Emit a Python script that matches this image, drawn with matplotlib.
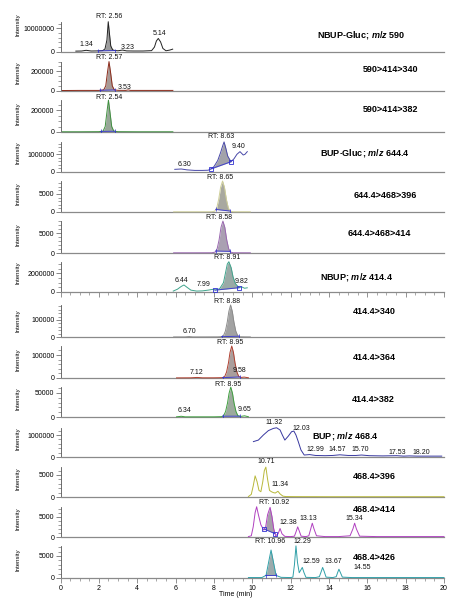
import numpy as np
import matplotlib
matplotlib.use("Agg")
import matplotlib.pyplot as plt
import matplotlib.transforms as mtransforms

plt.rcParams['font.family'] = ['Liberation Sans', 'DejaVu Sans']
plt.rcParams['mathtext.fontset'] = 'custom'
plt.rcParams['mathtext.it'] = 'Liberation Sans:bold:italic'
plt.rcParams['mathtext.rm'] = 'Liberation Sans:bold'
plt.rcParams['mathtext.bf'] = 'Liberation Sans:bold'

# ---------------- data ----------------
titles = ["NBUP-Gluc; $\\mathit{m/z}$ 590", "590>414>340", "590>414>382",
          "BUP-Gluc; $\\mathit{m/z}$ 644.4", "644.4>468>396", "644.4>468>414",
          "NBUP; $\\mathit{m/z}$ 414.4", "414.4>340", "414.4>364", "414.4>382",
          "BUP; $\\mathit{m/z}$ 468.4", "468.4>396", "468.4>414", "468.4>426"]

y_major = [10000000, 200000, 200000, 1000000, 5000, 5000, 2000000,
           100000, 100000, 50000, 1000000, 5000, 5000, 5000]

p1_t = [0.8, 1.1, 1.34, 1.6, 1.96, 2.2, 2.32, 2.42, 2.49, 2.55, 2.62, 2.72, 2.84, 3.0, 3.23, 3.45, 3.8,
        4.3, 4.75, 4.9, 5.0, 5.1, 5.22, 5.34, 5.5, 5.7, 5.85]
p1_i = [0.25e6, 0.3e6, 0.6e6, 0.3e6, 0.35e6, 0.45e6, 1.2e6, 5.0e6, 12.9e6, 8.0e6, 2.5e6, 0.8e6, 0.5e6,
        0.4e6, 0.7e6, 0.35e6, 0.3e6, 0.3e6, 0.45e6, 2.0e6, 4.6e6, 5.7e6, 4.2e6, 1.4e6, 0.4e6, 0.7e6, 1.1e6]

p2_t = [0.1, 1.0, 2.0, 2.25, 2.36, 2.45, 2.53, 2.61, 2.7, 2.81, 3.0, 3.4, 3.53, 3.65, 4.5, 5.86]
p2_i = [2e3, 3e3, 3e3, 8e3, 5e4, 1.9e5, 3.0e5, 1.9e5, 5e4, 8e3, 4e3, 3e3, 8e3, 3e3, 3e3, 3e3]

p3_t = [0.1, 1.0, 2.0, 2.22, 2.33, 2.42, 2.5, 2.58, 2.67, 2.78, 3.0, 4.0, 5.86]
p3_i = [2e3, 2e3, 3e3, 8e3, 5e4, 1.8e5, 2.9e5, 1.8e5, 5e4, 8e3, 3e3, 2e3, 2e3]

p4_t = [5.96, 6.3, 6.6, 7.0, 7.4, 7.7, 7.84, 8.0, 8.2, 8.35, 8.45, 8.53, 8.62, 8.72, 8.89, 9.05, 9.2,
        9.36, 9.45, 9.53, 9.62, 9.74]
p4_i = [0.15e6, 0.17e6, 0.12e6, 0.09e6, 0.09e6, 0.1e6, 0.17e6, 0.3e6, 0.65e6, 1.1e6, 1.45e6, 1.7e6,
        1.35e6, 0.9e6, 0.58e6, 0.75e6, 1.0e6, 1.15e6, 1.05e6, 0.96e6, 1.0e6, 1.15e6]

p5_t = [5.9, 7.0, 7.9, 8.05, 8.15, 8.25, 8.35, 8.45, 8.55, 8.65, 8.75, 8.85, 9.0, 9.9]
p5_i = [50, 50, 60, 260, 1160, 3530, 6880, 8600, 6880, 3530, 1160, 260, 60, 50]

p6_t = [5.9, 7.0, 7.9, 8.07, 8.17, 8.27, 8.37, 8.47, 8.57, 8.67, 8.77, 8.87, 9.0, 9.9]
p6_i = [50, 50, 60, 240, 1100, 3300, 6500, 8100, 6500, 3300, 1100, 240, 60, 50]

p7_t = [5.88, 6.1, 6.3, 6.44, 6.6, 6.8, 7.1, 7.4, 7.7, 7.99, 8.06, 8.3, 8.5, 8.62, 8.7, 8.78, 8.9,
        9.0, 9.12, 9.31, 9.45, 9.6, 9.74]
p7_i = [0.1e6, 0.3e6, 0.6e6, 0.75e6, 0.5e6, 0.2e6, 0.1e6, 0.12e6, 0.2e6, 0.3e6, 0.2e6, 0.35e6, 1.0e6,
        2.2e6, 3.0e6, 3.24e6, 2.6e6, 1.6e6, 0.9e6, 0.46e6, 0.55e6, 0.4e6, 0.45e6]

p8_t = [5.9, 6.5, 6.7, 6.9, 7.5, 8.2, 8.4, 8.5, 8.6, 8.7, 8.78, 8.87, 8.96, 9.04, 9.14, 9.24, 9.35,
        9.6, 9.9]
p8_i = [500, 500, 2500, 500, 500, 800, 2000, 8e3, 3.5e4, 9e4, 1.5e5, 1.88e5, 1.5e5, 9e4, 3.5e4, 8e3,
        1500, 800, 500]

p9_t = [6.05, 6.8, 7.12, 7.4, 8.0, 8.45, 8.56, 8.66, 8.76, 8.84, 8.93, 9.02, 9.1, 9.2, 9.3, 9.42,
        9.58, 9.8]
p9_i = [500, 800, 2500, 800, 800, 1500, 6e3, 2.6e4, 6.6e4, 1.11e5, 1.39e5, 1.11e5, 6.6e4, 2.6e4, 6e3,
        2500, 4000, 1000]

p10_t = [6.05, 6.3, 6.5, 7.0, 8.0, 8.4, 8.51, 8.61, 8.71, 8.79, 8.88, 8.97, 9.05, 9.15, 9.25, 9.4,
         9.6, 9.8]
p10_i = [300, 1500, 300, 300, 300, 700, 2700, 1.15e4, 2.9e4, 4.9e4, 6.2e4, 4.9e4, 2.9e4, 1.15e4,
         2700, 1200, 2500, 500]

p11_t = [10.06, 10.32, 10.58, 10.84, 11.10, 11.27, 11.45, 11.57, 11.70, 11.88, 12.05, 12.17, 12.28,
         12.40, 12.54, 12.71, 12.99, 13.3, 13.8, 14.2, 14.57, 15.0, 15.4, 15.7, 16.1, 16.8, 17.53,
         17.9, 18.2, 18.6, 19.2, 19.88]
p11_i = [0.70e6, 0.77e6, 1.0e6, 1.2e6, 1.30e6, 1.33e6, 1.23e6, 1.0e6, 0.77e6, 0.95e6, 1.15e6, 1.18e6,
         1.0e6, 0.70e6, 0.32e6, 0.09e6, 0.11e6, 0.07e6, 0.06e6, 0.07e6, 0.1e6, 0.07e6, 0.07e6, 0.09e6,
         0.06e6, 0.05e6, 0.06e6, 0.04e6, 0.05e6, 0.04e6, 0.04e6, 0.04e6]

p12_t = [9.8, 9.95, 10.05, 10.15, 10.25, 10.35, 10.45, 10.55, 10.63, 10.71, 10.8, 10.9, 11.0, 11.1,
         11.2, 11.34, 11.45, 11.6, 11.75, 12.2, 14.0, 17.0, 20.0]
p12_i = [100, 600, 2500, 4800, 3500, 1500, 1200, 3500, 6000, 6800, 4000, 1500, 1200, 1000, 900,
         1300, 700, 200, 100, 80, 60, 60, 60]

p13_t = [9.8, 9.95, 10.05, 10.15, 10.23, 10.32, 10.45, 10.6, 10.7, 10.8, 10.93, 11.03, 11.12, 11.22,
         11.35, 11.45, 11.55, 11.7, 12.0, 12.2, 12.3, 12.37, 12.45, 12.55, 12.8, 12.95, 13.05, 13.13,
         13.22, 13.35, 13.8, 14.5, 15.1, 15.25, 15.34, 15.43, 15.6, 16.5, 18.0, 20.0]
p13_i = [100, 300, 2500, 6000, 7450, 5500, 3000, 1700, 2500, 5500, 7300, 5000, 2000, 300, 800, 2100,
         800, 150, 100, 200, 1500, 2500, 1500, 200, 100, 300, 2000, 3400, 2000, 300, 100, 100, 300,
         2000, 3400, 2000, 200, 100, 100, 100]

p14_t = [9.8, 10.5, 10.72, 10.85, 10.98, 11.11, 11.24, 11.5, 12.0, 12.12, 12.2, 12.28, 12.36, 12.45,
         12.53, 12.61, 12.7, 12.8, 13.3, 13.5, 13.6, 13.67, 13.75, 13.85, 14.2, 14.38, 14.45, 14.52,
         14.6, 14.7, 15.2, 17.0, 20.0]
p14_i = [100, 100, 600, 3500, 6360, 3500, 600, 150, 100, 200, 3000, 7300, 3500, 1200, 1800, 2400,
         1200, 150, 100, 300, 1500, 2400, 1500, 200, 100, 300, 1200, 2000, 1200, 200, 100, 100, 100]

traces_t = [p1_t, p2_t, p3_t, p4_t, p5_t, p6_t, p7_t, p8_t, p9_t, p10_t, p11_t, p12_t, p13_t, p14_t]
traces_i = [p1_i, p2_i, p3_i, p4_i, p5_i, p6_i, p7_i, p8_i, p9_i, p10_i, p11_i, p12_i, p13_i, p14_i]

# integrated peak windows (start, end) in minutes
peak_windows = [(1.96, 2.84), (2.06, 2.84), (2.1, 2.84), (7.84, 8.89), (8.1, 8.85), (8.1, 8.85),
                (8.06, 9.31), (8.4, 9.3), (8.45, 9.35), (8.45, 9.35), None, None, (10.63, 11.19),
                (10.7, 11.25)]
box_markers = [False, False, False, True, False, False, True, False, False, False, False, False, True,
               False]

# peak labels: (text, time, height as axes fraction)
peak_labels = [
    [("RT: 2.56", 2.545, 0.875), ("1.34", 1.37, 0.17), ("3.23", 3.50, 0.11), ("5.14", 5.15, 0.45)],
    [("RT: 2.57", 2.53, 0.835), ("3.53", 3.36, 0.085)],
    [("RT: 2.54", 2.53, 0.87)],
    [("RT: 8.63", 8.37, 0.88), ("9.40", 9.27, 0.65), ("6.30", 6.46, 0.20)],
    [("RT: 8.65", 8.32, 0.87)],
    [("RT: 8.58", 8.27, 0.89)],
    [("RT: 8.91", 8.70, 0.87), ("6.44", 6.32, 0.275), ("7.99", 7.48, 0.19), ("9.82", 9.45, 0.26)],
    [("RT: 8.88", 8.70, 0.88), ("6.70", 6.72, 0.13)],
    [("RT: 8.95", 8.84, 0.88), ("7.12", 7.10, 0.14), ("9.58", 9.36, 0.175)],
    [("RT: 8.95", 8.75, 0.825), ("6.34", 6.49, 0.175), ("9.65", 9.62, 0.19)],
    [("11.32", 11.15, 0.875), ("12.03", 12.54, 0.72), ("12.99", 13.31, 0.19), ("14.57", 14.44, 0.19),
     ("15.70", 15.62, 0.19), ("17.53", 17.57, 0.11), ("18.20", 18.84, 0.11)],
    [("10.71", 10.75, 0.88), ("11.34", 11.45, 0.325)],
    [("RT: 10.92", 11.15, 0.86), ("12.38", 11.88, 0.36), ("13.13", 12.92, 0.47), ("15.34", 15.32, 0.47)],
    [("RT: 10.96", 10.93, 0.91), ("12.29", 12.61, 0.91), ("12.59", 13.10, 0.41), ("13.67", 14.23, 0.41),
     ("14.55", 15.71, 0.27)],
]

x_ticks = [0, 2, 4, 6, 8, 10, 12, 14, 16, 18, 20]

# ---------------- layout / style ----------------
W, H = 449, 600
X0, X1 = 60.5, 444.0
zeros_px = [51.7, 90.7, 132, 172, 212, 253, 292, 337, 378, 417, 457, 497, 537, 578]
ytops = [1.72e7, 4.12e5, 3.64e5, 2.26e6, 11100, 10150, 4.28e6, 2.35e5, 1.74e5, 8.3e4, 1.82e6,
         9090, 9850, 9090]
minor_steps = [2e6, 5e4, 5e4, 2e5, 1000, 1000, 5e5, 2e4, 2e4, 1e4, 2e5, 1000, 1000, 1000]
colors = ["#222222", "#8b2a1a", "#3f8f3f", "#4848a8", "#cfcf98", "#9a68b0", "#3fa48c", "#8c8c8c",
          "#b04030", "#3f9f3f", "#3838a0", "#b8b83a", "#b040c0", "#30a0a8"]
fill_colors = ["#9c9c9c", "#a89a96", "#98a698", "#a2a2aa", "#a8a8a0", "#aaa0b2", "#9aaaa6", "#a2a2a2",
               "#aa9e9c", "#9caa9c", "#a0a0a0", "#a0a0a0", "#a69eaa", "#9caaac"]
title_pos = [(316.7, 35), (363, 70), (363, 109), (320, 152.7), (354, 195), (347.7, 234), (320, 276.7),
             (352.7, 311), (352.7, 358), (352.3, 399.3), (312.3, 436), (352.7, 476.7), (353.3, 509.3),
             (352.7, 557.3)]
ylabel_off = [27, 18, 18, 19, 18, 18, 19, 16, 18, 18, 18, 18, 18, 18]
BLUE = "#3030d0"

fig = plt.figure(figsize=(W / 100, H / 100), dpi=100)

for k in range(14):
    zero = zeros_px[k]
    ax = fig.add_axes([X0 / W, 1 - zero / H, (X1 - X0) / W, 40 / H])
    ax.patch.set_visible(False)
    ax.set_xlim(0, 20)
    ax.set_ylim(0, ytops[k])
    for s in ("top", "right"):
        ax.spines[s].set_visible(False)
    ax.spines["bottom"].set_color("#8a8a8a")
    ax.spines["bottom"].set_linewidth(0.9)
    ax.spines["left"].set_color("#555555")
    ax.spines["left"].set_linewidth(0.6)

    t = np.array(traces_t[k], dtype=float)
    y = np.array(traces_i[k], dtype=float)
    ymax = y.max()
    ax.spines["left"].set_bounds(0, ymax)

    # integrated peak
    win = peak_windows[k]
    if win is not None:
        a, b = win
        ya = np.interp(a, t, y)
        yb = np.interp(b, t, y)
        sel = (t >= a) & (t <= b)
        tt = np.concatenate([[a], t[sel], [b]])
        yy = np.concatenate([[ya], y[sel], [yb]])
        base = ya + (yb - ya) * (tt - a) / (b - a)
        ax.fill_between(tt, base, yy, color=fill_colors[k], lw=0, zorder=2)
        ax.plot([a, b], [ya, yb], color=BLUE, lw=0.7, zorder=4, alpha=0.85)
        if box_markers[k]:
            ax.plot([a, b], [ya, yb], ls="none", marker="s", ms=2.8, mfc="none", mec=BLUE, mew=0.6,
                    zorder=5)
        else:
            ax.plot([a, b], [ya, yb], ls="none", marker="|", ms=2.5, mec=BLUE, mew=0.6, zorder=5,
                    alpha=0.85)

    ax.plot(t, y, color=colors[k], lw=0.7, zorder=3, clip_on=False)

    # y ticks
    ax.set_yticks([0, y_major[k]])
    ax.set_yticklabels(["0", str(y_major[k])])
    minors = [v for v in np.arange(0, ymax + 1e-9, minor_steps[k])
              if all(abs(v - m) > 1e-6 * ymax for m in (0, y_major[k]))]
    ax.set_yticks(minors, minor=True)
    ax.tick_params(axis="y", which="major", length=3.6, width=0.5, labelsize=5, pad=0.8, color="#555555")
    ax.tick_params(axis="y", which="minor", length=2.0, width=0.4, color="#555555")

    # x ticks
    if k in (6, 13):
        ax.set_xticks(x_ticks)
        ax.set_xticks(np.arange(0, 20.01, 0.5), minor=True)
        ax.tick_params(axis="x", which="major", length=3.6, width=0.5, labelsize=5, pad=1.2,
                       color="#666666")
        ax.tick_params(axis="x", which="minor", length=2.2, width=0.4, color="#666666")
        if k == 6:
            ax.set_xticklabels([])
    else:
        ax.set_xticks([])

    trans = mtransforms.blended_transform_factory(ax.transData, ax.transAxes)
    for txt, xt, yf in peak_labels[k]:
        ax.text(xt, yf, txt, transform=trans, fontsize=5, ha="center", va="center", color="#111111",
                clip_on=False, zorder=6)

    tx, ty = title_pos[k]
    fig.text(tx / W, 1 - ty / H, titles[k], fontsize=6.5, fontweight="bold", ha="left", va="center")
    fig.text(18 / W, 1 - (zero - ylabel_off[k]) / H, "Intensity", fontsize=4.3, rotation=90,
             ha="center", va="center")

fig.text(236 / W, 1 - 594 / H, "Time (min)", fontsize=5, ha="center", va="center")

fig.savefig("out.png", dpi=100)
